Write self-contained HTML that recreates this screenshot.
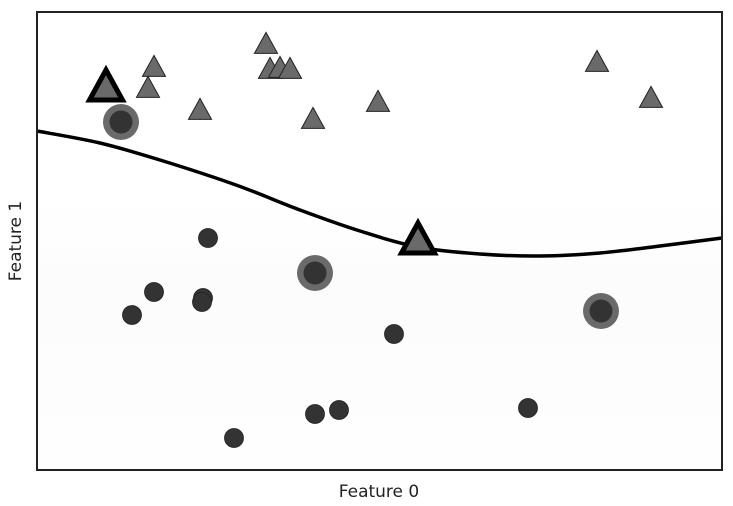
<!DOCTYPE html>
<html><head><meta charset="utf-8"><style>
body{margin:0;background:#fff;}
svg{display:block;font-family:"DejaVu Sans","Liberation Sans",sans-serif;}
</style></head><body>
<svg id="chart" width="733" height="506">
<defs><linearGradient id="bg" x1="0" y1="0" x2="0" y2="1"><stop offset="0" stop-color="#ffffff"/><stop offset="0.4" stop-color="#ffffff"/><stop offset="0.6" stop-color="#fcfcfc"/><stop offset="1" stop-color="#fefefe"/></linearGradient></defs>
<rect x="37" y="12" width="685" height="458" fill="url(#bg)"/>
<g id="marks"></g>
<rect x="37" y="12" width="685" height="458" fill="none" stroke="#222" stroke-width="2"/>
<text x="379" y="497" font-size="17" text-anchor="middle" fill="#222">Feature 0</text>
<text x="21" y="241" font-size="17" text-anchor="middle" fill="#222" transform="rotate(-90 21 241)">Feature 1</text>
</svg>
<script>
const triX=[230,118,234,244,254,112,164,277,342,561,615];
const triY=[425,402,400,401,400,381,359,350,367,407,371];
const svTriX=[70,382];
const svTriY=[382,229];
const circX=[172,118,167,166,96,358,279,303,492,198];
const circY=[232,178,172,168,155,136,56,60,62,32];
const svCircX=[85,279,565];
const svCircY=[348,197,159];
const curveX=[1,64,124,200,264,324,382,444,504,564,624,686];
const curveY=[339,327,310,285,260,239,223,216,214,217,224,232];
const sx=v=>36+v, sy=v=>470-v;
const NS="http://www.w3.org/2000/svg";
const g=document.getElementById('marks');
function mk(t,a){const e=document.createElementNS(NS,t);for(const k in a)e.setAttribute(k,a[k]);g.appendChild(e);return e;}
const pts=curveX.map((x,i)=>[sx(x),sy(curveY[i])]);
let d="M"+pts[0][0]+","+pts[0][1];
for(let i=0;i<pts.length-1;i++){const p0=pts[Math.max(0,i-1)],p1=pts[i],p2=pts[i+1],p3=pts[Math.min(pts.length-1,i+2)];
d+=" C"+(p1[0]+(p2[0]-p0[0])/6)+","+(p1[1]+(p2[1]-p0[1])/6)+" "+(p2[0]-(p3[0]-p1[0])/6)+","+(p2[1]-(p3[1]-p1[1])/6)+" "+p2[0]+","+p2[1];}
const c=mk('path',{d:d,fill:'none',stroke:'#000','stroke-width':3.5});


function tri(x,y,h){const w=h*0.55;return (x)+","+(y-h*0.6)+" "+(x+w)+","+(y+h*0.4)+" "+(x-w)+","+(y+h*0.4);}
circX.forEach((x,i)=>{const e=mk('circle',{cx:sx(x),cy:sy(circY[i]),r:9.5,fill:'#333',stroke:'#222','stroke-width':0.8});

});
svCircX.forEach((x,i)=>{const o=mk('circle',{cx:sx(x),cy:sy(svCircY[i]),r:18,fill:'#6a6a6a'});


const e=mk('circle',{cx:sx(x),cy:sy(svCircY[i]),r:11.5,fill:'#333'});

});
triX.forEach((x,i)=>{const e=mk('polygon',{points:tri(sx(x),sy(triY[i]),21),fill:'#6a6a6a',stroke:'#222','stroke-width':1});

});
svTriX.forEach((x,i)=>{const e=mk('polygon',{points:tri(sx(x),sy(svTriY[i]),30),fill:'#6a6a6a',stroke:'#000','stroke-width':5,'stroke-linejoin':'miter'});

});
</script>
</body></html>
